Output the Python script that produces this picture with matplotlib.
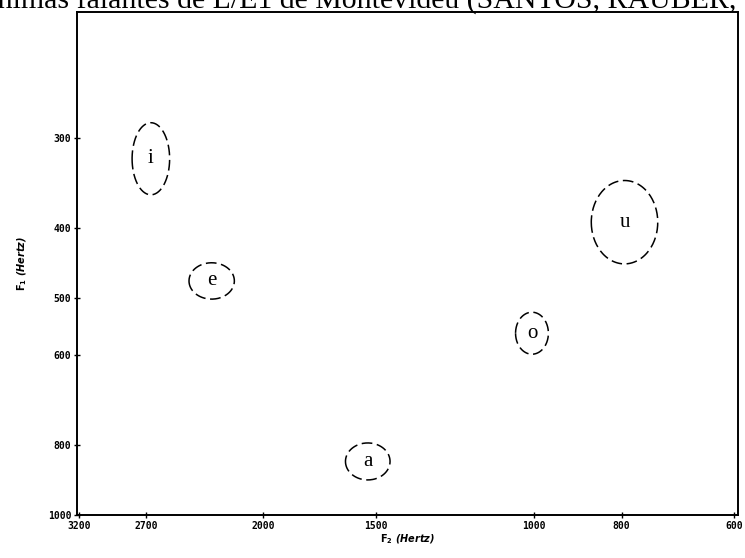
import numpy as np
import matplotlib
matplotlib.use("Agg")
import matplotlib.pyplot as plt
from matplotlib.ticker import NullLocator

# Vowels: F2 / F1 centres (Hz) and spread (semi-axes, in natural-log units)
vowels = ["i", "e", "a", "o", "u"]
f2_hz = [2666, 2282, 1531, 1006, 794]
f1_hz = [321, 474, 843, 560, 393]
f2_spread = [0.048, 0.058, 0.057, 0.042, 0.085]
f1_spread = [0.115, 0.058, 0.059, 0.067, 0.133]

x_ticks = [3200, 2700, 2000, 1500, 1000, 800, 600]
y_ticks = [300, 400, 500, 600, 800, 1000]

caption = "m\u00ednimas falantes de L/E1 de Montevid\u00e9u (SANTOS, RAUBER,"

fig = plt.figure(figsize=(7.45, 5.58), dpi=100)
ax = fig.add_axes([0.1034, 0.0771, 0.8872, 0.9014])

ax.set_xscale("log")
ax.set_yscale("log")
ax.set_xlim(3220, 594)
ax.set_ylim(1000, 201)

t = np.linspace(0, 2 * np.pi, 200)
for v, f2, f1, s2, s1 in zip(vowels, f2_hz, f1_hz, f2_spread, f1_spread):
    ex = f2 * np.exp(s2 * np.cos(t))
    ey = f1 * np.exp(s1 * np.sin(t))
    ax.plot(ex, ey, color="black", lw=1.1, linestyle=(0, (7, 3)))
    ax.text(f2, f1, v, ha="center", va="center", fontsize=15,
            family="Liberation Serif")

ax.xaxis.set_minor_locator(NullLocator())
ax.yaxis.set_minor_locator(NullLocator())
ax.set_xticks(x_ticks)
ax.set_xticklabels([str(x) for x in x_ticks])
ax.set_yticks(y_ticks)
ax.set_yticklabels([str(y) for y in y_ticks])
ax.tick_params(axis="both", direction="inout", length=4, width=1,
               labelsize=7, pad=2)
for lab in ax.get_xticklabels() + ax.get_yticklabels():
    lab.set_fontweight("bold")
    lab.set_family("DejaVu Sans Mono")

for sp in ax.spines.values():
    sp.set_linewidth(1.4)

ax.set_xlabel("$\\mathbf{F_2}$ (Hertz)", fontsize=7, fontweight="bold",
              fontstyle="italic", labelpad=1)
ax.set_ylabel("$\\mathbf{F_1}$ (Hertz)", fontsize=7, fontweight="bold",
              fontstyle="italic", labelpad=14)

# document caption line, partly cut off at the top as in the screenshot
fig.text(-0.045, 1 - 8 / 558, caption, fontsize=21.5, family="Liberation Serif",
         ha="left", va="baseline")

fig.savefig("out.png", dpi=100)
